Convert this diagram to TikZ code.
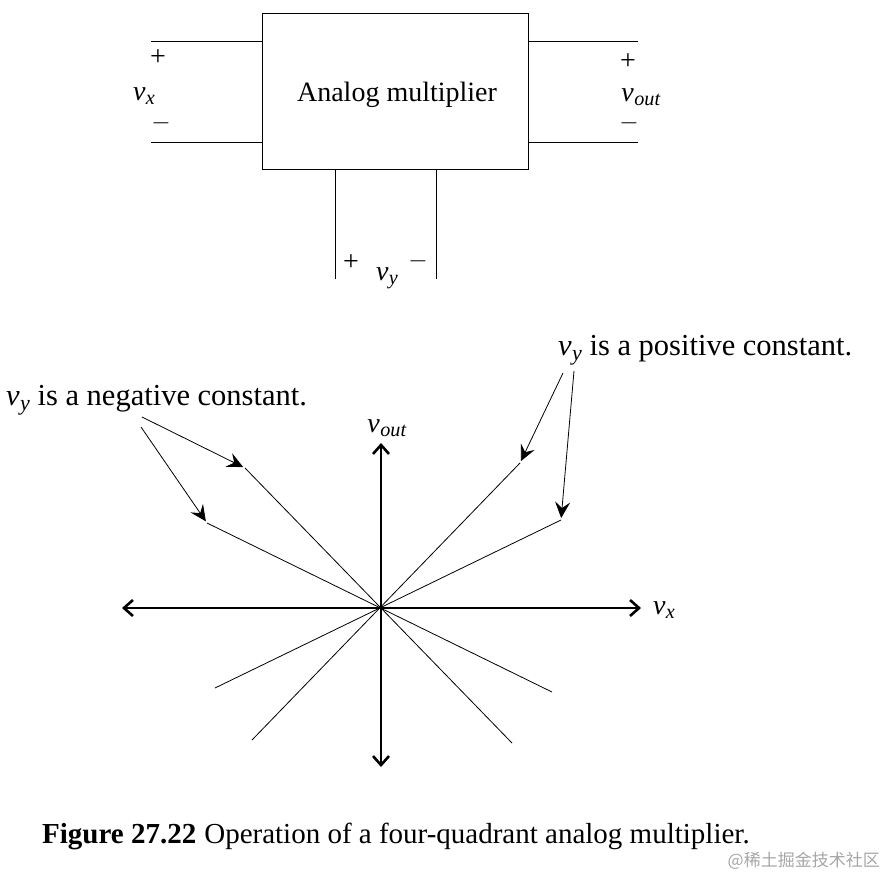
\documentclass[tikz,border=0pt]{standalone}
\usepackage{fontspec}
\setmainfont{Liberation Serif}
\newfontfamily\cjkfont{Noto Sans CJK SC}
\usetikzlibrary{arrows.meta,positioning}
\newcommand{\volt}[1]{\textit{v}\kern0.5pt\raisebox{-0.35ex}{\scalebox{0.72}{\textit{#1}}}}
\tikzset{
	wire/.style={line width=0.9},
	lbl/.style={inner sep=0pt,font=\fontsize{28}{32}\selectfont},
	note/.style={inner sep=0pt,font=\fontsize{30.5}{34}\selectfont},
	axis/.style={line width=2.6,{Straight Barb[length=9,width=16,line width=2.6]}-{Straight Barb[length=9,width=16,line width=2.6]}},
	ray/.style={line width=0.8},
	pointer/.style={line width=0.8,shorten >=2,-{Stealth[length=16,width=15,inset=6]}}
}
\begin{document}
\begin{tikzpicture}[x=1pt,y=1pt,yscale=-1,xscale=1]
	\useasboundingbox (0,0) rectangle (889,878);
	
	%Shape: Rectangle [id:multiplier]
	\node [draw,line width=1,minimum width=266,minimum height=156,inner sep=0pt] (mult) at (395,91) {};
	\node [lbl] (multtxt) at (397,95) {Analog multiplier};
	
	%Straight Lines [id:inputs x]
	\coordinate (xtop) at (151,41);
	\coordinate (xbot) at (151,142);
	\draw [wire] (xtop) -- (xtop -| mult.west);
	\draw [wire] (xbot) -- (xbot -| mult.west);
	%Straight Lines [id:output]
	\coordinate (otop) at (638,41);
	\coordinate (obot) at (638,142);
	\draw [wire] (otop) -- (otop -| mult.east);
	\draw [wire] (obot) -- (obot -| mult.east);
	%Straight Lines [id:inputs y]
	\coordinate (yleft) at (335,279);
	\coordinate (yright) at (436,279);
	\draw [wire] (yleft) -- (yleft |- mult.south);
	\draw [wire] (yright) -- (yright |- mult.south);
	
	% Text Node
	\node [lbl] (xplus) at (158,58) {+};
	\node [lbl] (xlab) at (144,96) {\volt{x}};
	\node [lbl] (xminus) at (161,123) {$-$};
	% Text Node
	\node [lbl] (oplus) at (628,62) {+};
	\node [lbl] (olab) at (641,97) {\volt{out}};
	\node [lbl] (ominus) at (629,123) {$-$};
	% Text Node
	\node [lbl] (yplus) at (351,263) {+};
	\node [lbl] (ylab) at (387,278) {\volt{y}};
	\node [lbl] (yminus) at (418,261) {$-$};
	
	%Shape: Axis 2D [id:transfer]
	\coordinate (O) at (381,608);
	\coordinate (xl) at (122,608);
	\coordinate (xr) at (641,608);
	\coordinate (yt) at (381,443);
	\coordinate (yb) at (381,767);
	\draw [axis] (xl) -- (xr);
	\draw [axis] (yb) -- (yt);
	\node [lbl] (vx) at (664,610) {\volt{x}};
	\node [lbl] (vout) at (387,428) {\volt{out}};
	
	%Straight Lines [id:rays]
	\coordinate (pa) at (520,463);
	\coordinate (pb) at (252,740);
	\coordinate (pc) at (561,520);
	\coordinate (pd) at (215,688);
	\coordinate (na) at (245,468);
	\coordinate (nb) at (512,743);
	\coordinate (nc) at (207,523);
	\coordinate (nd) at (552,692);
	\draw [ray] (pb) -- (pa);
	\draw [ray] (pd) -- (pc);
	\draw [ray] (na) -- (nb);
	\draw [ray] (nc) -- (nd);
	
	% Text Node
	\node [note,anchor=west] (neg) at (6,400) {\volt{y} is a negative constant.};
	\node [note,anchor=west] (pos) at (558,350) {\volt{y} is a positive constant.};
	
	%Straight Lines [id:pointers]
	\coordinate (n1) at (142,417);
	\coordinate (n2) at (141,427);
	\coordinate (p1) at (563,373);
	\coordinate (p2) at (574,371);
	\draw [pointer] (n1) -- (na);
	\draw [pointer] (n2) -- (nc);
	\draw [pointer] (p1) -- (pa);
	\draw [pointer] (p2) -- (pc);
	
	% Text Node
	\node [lbl,anchor=west,font=\fontsize{29}{33}\selectfont] (caption) at (42,836) {\textbf{Figure 27.22}\hspace{8pt}Operation of a four-quadrant analog multiplier.};
	\node [inner sep=0pt,anchor=east,text=black!35,font=\fontsize{17}{20}\selectfont] (mark) at (880,861) {\cjkfont @稀土掘金技术社区};
	
\end{tikzpicture}
\end{document}
